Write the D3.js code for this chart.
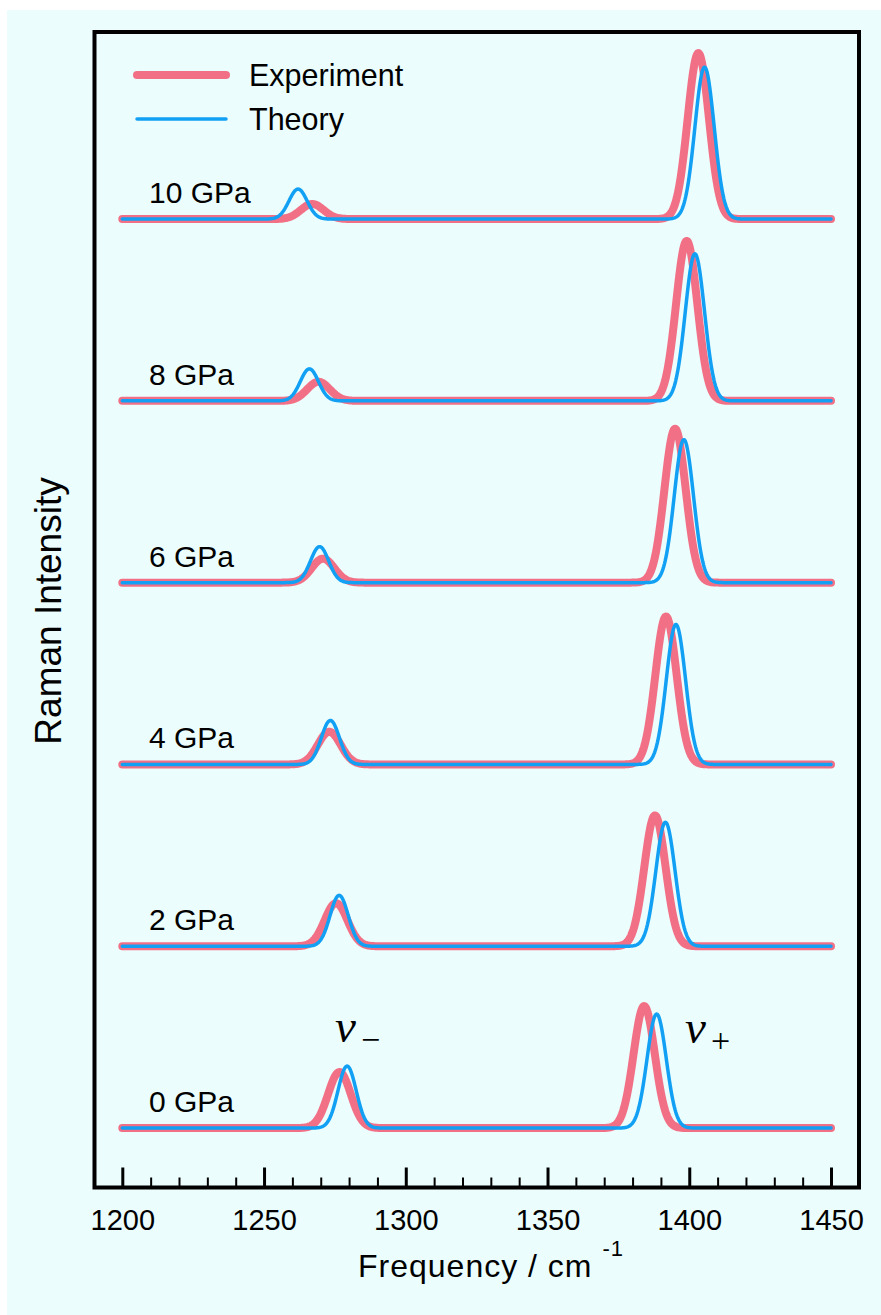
<!DOCTYPE html>
<html>
<head>
<meta charset="utf-8">
<script src="https://cdn.jsdelivr.net/npm/d3@7"></script>
<style>
  body { margin: 0; background: #fff; }
  text { font-family: "Liberation Sans", Arial, Helvetica, sans-serif; fill: #000; }
</style>
</head>
<body>
<div id="chart"></div>
<script>
// ---------------------------------------------------------------
// data (peak centre in cm-1, height in offset units)
// ---------------------------------------------------------------
var pressures = ["0 GPa", "2 GPa", "4 GPa", "6 GPa", "8 GPa", "10 GPa"];

var expPlusPos   = [1384.1, 1387.9, 1391.8, 1395.0, 1399.1, 1403.2];
var expPlusHt    = [0.671, 0.720, 0.814, 0.847, 0.880, 0.913];
var thePlusPos   = [1388.5, 1391.6, 1395.3, 1398.1, 1402.0, 1405.4];
var thePlusHt    = [0.627, 0.682, 0.770, 0.787, 0.809, 0.836];

var expMinusPos  = [1276.6, 1275.4, 1273.0, 1270.8, 1269.2, 1267.0];
var expMinusHt   = [0.308, 0.237, 0.180, 0.132, 0.105, 0.083];
var theMinusPos  = [1279.3, 1276.5, 1273.4, 1269.6, 1266.0, 1262.0];
var theMinusHt   = [0.341, 0.280, 0.242, 0.198, 0.176, 0.165];

// gaussian widths (sigma, cm-1) : [nu+, nu-]
var expSigma = [3.75, 4.0];
var theSigma = [3.4, 3.2];

var xMajor = [1200, 1250, 1300, 1350, 1400, 1450];
var xMinor = [1210, 1220, 1230, 1240, 1260, 1270, 1280, 1290, 1310, 1320, 1330, 1340,
              1360, 1370, 1380, 1390, 1410, 1420, 1430, 1440];

var colExp = "#f27086", colThe = "#12a0f4";

// ---------------------------------------------------------------
// svg
// ---------------------------------------------------------------
var W = 881, H = 1315;
var cadre = {gauche: 94.5, haut: 32, droite: 859, bas: 1187.5};

var svg = d3.select("#chart").append("svg")
    .attr("width", W)
    .attr("height", H);

svg.append("rect")
    .attr("x", 7).attr("y", 10)
    .attr("width", W - 7).attr("height", H - 10)
    .attr("fill", "#ebfdfd");

var x = d3.scaleLinear().domain([1200, 1450]).range([122.3, 831]);
// one offset unit = distance between two spectra
var y = d3.scaleLinear().domain([-0.327, 6.029]).range([cadre.bas, cadre.haut]);

// axes : ticks pointing inwards
var gx = svg.append("g")
    .attr("transform", "translate(0," + cadre.bas + ")");
gx.append("g")
    .call(d3.axisBottom(x).tickValues(xMinor).tickSize(-10).tickFormat(""))
    .call(function(g) {
        g.select(".domain").remove();
        g.selectAll("line").attr("stroke", "#000").attr("stroke-width", 2);
    });
gx.append("g")
    .call(d3.axisBottom(x).tickValues(xMajor).tickSize(-20).tickPadding(21.5).tickFormat(d3.format("d")))
    .call(function(g) {
        g.select(".domain").remove();
        g.selectAll("line").attr("stroke", "#000").attr("stroke-width", 3);
        g.selectAll("text").attr("font-size", 29).attr("font-family", "Liberation Sans, Arial, sans-serif");
    });

// spectra
var grille = d3.range(1200, 1450.001, 0.25);
function spectre(i, pos1, ht1, pos2, ht2, sig) {
    return grille.map(function(f) {
        var a = ht1[i] * Math.exp(-0.5 * Math.pow((f - pos1[i]) / sig[0], 2));
        var b = ht2[i] * Math.exp(-0.5 * Math.pow((f - pos2[i]) / sig[1], 2));
        return [f, i + a + b];
    });
}
var ligne = d3.line()
    .x(function(d) { return x(d[0]); })
    .y(function(d) { return y(d[1]); });

var courbes = svg.append("g").attr("fill", "none")
    .attr("stroke-linecap", "round").attr("stroke-linejoin", "round");

pressures.forEach(function(p, i) {
    courbes.append("path")
        .attr("d", ligne(spectre(i, expPlusPos, expPlusHt, expMinusPos, expMinusHt, expSigma)))
        .attr("stroke", colExp).attr("stroke-width", 8);
    courbes.append("path")
        .attr("d", ligne(spectre(i, thePlusPos, thePlusHt, theMinusPos, theMinusHt, theSigma)))
        .attr("stroke", colThe).attr("stroke-width", 3.5);

    svg.append("text")
        .attr("x", 149)
        .attr("y", y(i) - 16)
        .attr("font-size", 30)
        .text(p);
});

// frame
svg.append("rect")
    .attr("x", cadre.gauche).attr("y", cadre.haut)
    .attr("width", cadre.droite - cadre.gauche)
    .attr("height", cadre.bas - cadre.haut)
    .attr("fill", "none").attr("stroke", "#000").attr("stroke-width", 4);

// legend
var leg = [["Experiment", colExp, 8, 75], ["Theory", colThe, 3.5, 119]];
leg.forEach(function(l) {
    svg.append("line")
        .attr("x1", 137).attr("x2", 226)
        .attr("y1", l[3]).attr("y2", l[3])
        .attr("stroke", l[1]).attr("stroke-width", l[2])
        .attr("stroke-linecap", "round");
    svg.append("text")
        .attr("x", 249).attr("y", l[3] + 11)
        .attr("font-size", 30.5)
        .text(l[0]);
});

// mode labels
function etiquette(xp, yp, signe) {
    var t = svg.append("text")
        .attr("x", xp).attr("y", yp)
        .style("font-family", "'Liberation Serif', 'Times New Roman', serif");
    t.append("tspan").attr("font-style", "italic").attr("font-size", 47).text("ν");
    t.append("tspan").attr("font-size", 34).attr("dy", 9).attr("dx", 5).text(signe);
}
etiquette(335, 1042, "\u2212");
etiquette(685, 1043, "+");

// axis titles
var tx = svg.append("text")
    .attr("x", 358).attr("y", 1277)
    .attr("font-size", 32)
    .attr("letter-spacing", 1);
tx.append("tspan").text("Frequency / cm ");
tx.append("tspan").attr("font-size", 22).attr("dy", -21).text("-1");

svg.append("text")
    .attr("transform", "translate(61,611) rotate(-90)")
    .attr("text-anchor", "middle")
    .attr("font-size", 37)
    .text("Raman Intensity");
</script>
</body>
</html>
